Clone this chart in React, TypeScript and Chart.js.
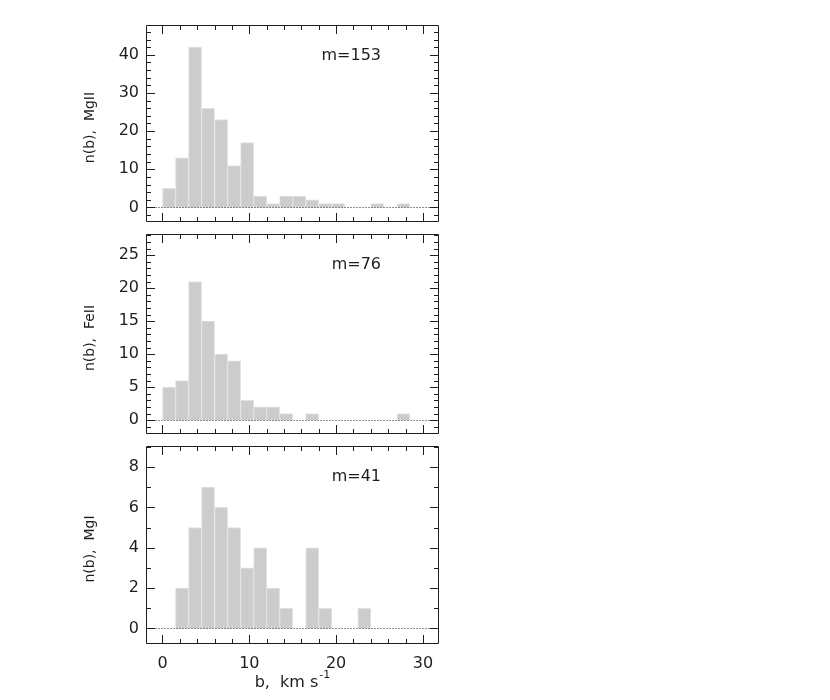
import React, { useEffect, useRef } from "react";
import { Chart, registerables } from "chart.js";

Chart.register(...registerables);

// Histogram bins (width 1.5 km/s), bin centres in km/s
const binCenters = [0.75, 2.25, 3.75, 5.25, 6.75, 8.25, 9.75, 11.25, 12.75, 14.25, 15.75, 17.25, 18.75, 20.25, 21.75, 23.25, 24.75, 26.25, 27.75];

// Counts per bin
const mg2Counts = [5, 13, 42, 26, 23, 11, 17, 3, 1, 3, 3, 2, 1, 1, 0, 0, 1, 0, 1];
const fe2Counts = [5, 6, 21, 15, 10, 9, 3, 2, 2, 1, 0, 1, 0, 0, 0, 0, 0, 0, 1];
const mg1Counts = [0, 2, 5, 7, 6, 5, 3, 4, 2, 1, 0, 4, 1, 0, 0, 1, 0, 0, 0];

// Tick labels
const xTickLabels = [0, 10, 20, 30];
const mg2YTicks = [0, 10, 20, 30, 40];
const fe2YTicks = [0, 5, 10, 15, 20, 25];
const mg1YTicks = [0, 2, 4, 6, 8];

const panelTitles = ["n(b),  MgII", "n(b),  FeII", "n(b),  MgI"];
const panelLabels = ["m=153", "m=76", "m=41"];

const FONT = "'DejaVu Sans', Verdana, sans-serif";
const INK = "#1e1e1e";
const CANVAS_W = 460;
const PLOT_LEFT = 146;
const PLOT_RIGHT = 439;
const X_MIN = -1.9;
const X_MAX = 31.85;

type Panel = {
  counts: number[];
  yTicks: number[];
  yMin: number;
  yMax: number;
  yMinor: number;
  title: string;
  label: string;
  top: number;
  bottom: number;
  extraBottom: number;
  showX: boolean;
};

const panels: Panel[] = [
  { counts: mg2Counts, yTicks: mg2YTicks, yMin: -3.8, yMax: 47.8, yMinor: 2, title: panelTitles[0], label: panelLabels[0], top: 25, bottom: 222, extraBottom: 4, showX: false },
  { counts: fe2Counts, yTicks: fe2YTicks, yMin: -2.1, yMax: 28.2, yMinor: 1, title: panelTitles[1], label: panelLabels[1], top: 234, bottom: 434, extraBottom: 4, showX: false },
  { counts: mg1Counts, yTicks: mg1YTicks, yMin: -0.77, yMax: 9.04, yMinor: 1, title: panelTitles[2], label: panelLabels[2], top: 446, bottom: 644, extraBottom: 56, showX: true },
];

const decorPlugin = {
  id: "decor",
  afterDatasetsDraw(chart: any, _args: any, opts: any) {
    const { ctx, chartArea: a, scales } = chart;
    const xs = scales.x;
    const ys = scales.y;
    const L = Math.round(a.left) + 0.5;
    const R = Math.round(a.right) - 0.5;
    const T = Math.round(a.top) + 0.5;
    const B = Math.round(a.bottom) - 0.5;
    ctx.save();
    ctx.lineWidth = 1;
    ctx.strokeStyle = INK;

    // dotted zero line
    const y0 = Math.round(ys.getPixelForValue(0)) + 0.5;
    ctx.setLineDash([1, 2]);
    ctx.beginPath();
    ctx.moveTo(L, y0);
    ctx.lineTo(R, y0);
    ctx.stroke();
    ctx.setLineDash([]);

    // frame
    ctx.beginPath();
    ctx.rect(L, T, R - L, B - T);
    ctx.stroke();

    const MAJ = 8.5;
    const MIN = 4.5;
    ctx.beginPath();
    // x ticks (top & bottom), major every 10, minor every 2
    for (let v = Math.ceil(X_MIN / 2) * 2; v <= X_MAX; v += 2) {
      const px = Math.round(xs.getPixelForValue(v)) + 0.5;
      const len = v % 10 === 0 ? MAJ : MIN;
      ctx.moveTo(px, B);
      ctx.lineTo(px, B - len);
      ctx.moveTo(px, T);
      ctx.lineTo(px, T + len);
    }
    // y ticks (left & right)
    const step = opts.yMinor;
    const majors: number[] = opts.yTicks;
    const majStep = majors[1] - majors[0];
    for (let k = Math.ceil(opts.yMin / step); k * step <= opts.yMax; k++) {
      const v = k * step;
      const py = Math.round(ys.getPixelForValue(v)) + 0.5;
      const isMaj = Math.abs(v / majStep - Math.round(v / majStep)) < 1e-6;
      const len = isMaj ? MAJ : MIN;
      ctx.moveTo(L, py);
      ctx.lineTo(L + len, py);
      ctx.moveTo(R, py);
      ctx.lineTo(R - len, py);
    }
    ctx.stroke();

    // m= label
    ctx.fillStyle = INK;
    ctx.font = `16px ${FONT}`;
    ctx.textAlign = "right";
    ctx.textBaseline = "middle";
    ctx.fillText(opts.label, a.right - 58, a.top + 31);

    // y title
    ctx.save();
    ctx.font = `14px ${FONT}`;
    ctx.translate(90, (a.top + a.bottom) / 2 + 4);
    ctx.rotate(-Math.PI / 2);
    ctx.textAlign = "center";
    ctx.textBaseline = "middle";
    ctx.fillText(opts.title, 0, 0);
    ctx.restore();

    // x title
    if (opts.showX) {
      ctx.font = `16px ${FONT}`;
      ctx.textAlign = "left";
      ctx.textBaseline = "alphabetic";
      const main = "b,  km s";
      const sup = "-1";
      const wMain = ctx.measureText(main).width;
      ctx.font = `11px ${FONT}`;
      const wSup = ctx.measureText(sup).width;
      const cx = (a.left + a.right) / 2;
      const x0 = cx - (wMain + wSup + 1) / 2;
      const base = a.bottom + 43;
      ctx.font = `16px ${FONT}`;
      ctx.fillText(main, x0, base);
      ctx.font = `11px ${FONT}`;
      ctx.fillText(sup, x0 + wMain + 1, base - 9);
    }
    ctx.restore();
  },
};

function HistPanel({ p }: { p: Panel }) {
  const ref = useRef<HTMLCanvasElement | null>(null);
  const padTop = 10;
  const h = p.bottom - p.top + padTop + p.extraBottom;

  useEffect(() => {
    if (!ref.current) return;
    const data = binCenters.map((c, i) => ({ x: c, y: p.counts[i] > 0 ? p.counts[i] : null }));
    const chart = new Chart(ref.current, {
      type: "bar",
      data: {
        datasets: [
          {
            data: data as any,
            backgroundColor: "#cccccc",
            borderColor: "#e2e2e2",
            borderWidth: 1,
            borderSkipped: "start",
            barPercentage: 1,
            categoryPercentage: 1,
            grouped: false,
          } as any,
        ],
      },
      options: {
        animation: false,
        responsive: false,
        maintainAspectRatio: false,
        devicePixelRatio: 1,
        layout: { padding: { top: padTop, right: CANVAS_W - PLOT_RIGHT, left: 0, bottom: 0 } },
        plugins: {
          legend: { display: false },
          tooltip: { enabled: false },
          decor: {
            yTicks: p.yTicks,
            yMin: p.yMin,
            yMax: p.yMax,
            yMinor: p.yMinor,
            title: p.title,
            label: p.label,
            showX: p.showX,
          },
        } as any,
        scales: {
          x: {
            type: "linear",
            min: X_MIN,
            max: X_MAX,
            offset: false,
            grid: { display: false, drawTicks: false },
            border: { display: false },
            ticks: {
              display: p.showX,
              padding: 10,
              color: INK,
              font: { family: FONT, size: 16 },
              maxRotation: 0,
              autoSkip: false,
              includeBounds: false,
            },
            afterBuildTicks: (s: any) => {
              s.ticks = xTickLabels.map((v) => ({ value: v }));
            },
            afterFit: (s: any) => {
              s.height = p.extraBottom;
              s.paddingLeft = 0;
              s.paddingRight = 0;
              s.paddingTop = 0;
              s.paddingBottom = 0;
            },
          },
          y: {
            type: "linear",
            min: p.yMin,
            max: p.yMax,
            grid: { display: false, drawTicks: false },
            border: { display: false },
            ticks: {
              padding: 7,
              color: INK,
              font: { family: FONT, size: 16 },
              autoSkip: false,
              includeBounds: false,
            },
            afterBuildTicks: (s: any) => {
              s.ticks = p.yTicks.map((v) => ({ value: v }));
            },
            afterFit: (s: any) => {
              s.width = PLOT_LEFT;
              s.paddingLeft = 0;
              s.paddingRight = 0;
              s.paddingTop = 0;
              s.paddingBottom = 0;
            },
          },
        },
      } as any,
      plugins: [decorPlugin],
    });
    return () => chart.destroy();
  }, [p]);

  return (
    <canvas
      ref={ref}
      width={CANVAS_W}
      height={h}
      style={{ position: "absolute", left: 0, top: p.top - padTop, width: CANVAS_W, height: h }}
    />
  );
}

export default function App() {
  return (
    <div style={{ position: "absolute", left: 0, top: 0, width: 830, height: 700, background: "#fff" }}>
      {panels.map((p, i) => (
        <HistPanel key={i} p={p} />
      ))}
    </div>
  );
}
